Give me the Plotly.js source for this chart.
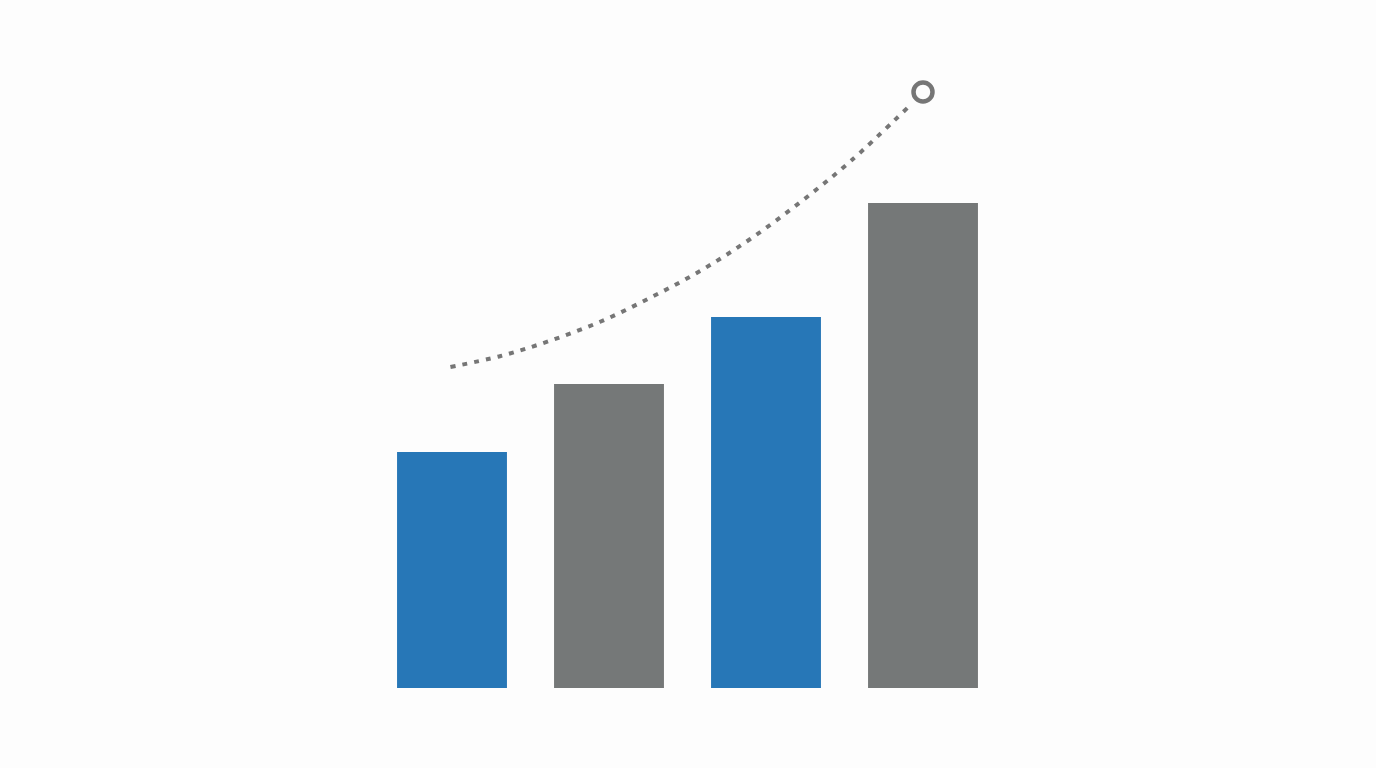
<!DOCTYPE html>
<html>
<head>
<meta charset="utf-8">
<script src="https://cdn.plot.ly/plotly-3.0.1.min.js"></script>
<style>
  html, body { margin: 0; padding: 0; background: #fdfdfd; }
  #chart { width: 1376px; height: 768px; }
</style>
</head>
<body>
<div id="chart"></div>
<script>
// bars
const barX = [0, 1, 2, 3];
const barValues = [2.36, 3.04, 3.71, 4.85];
const barColors = ['#2777b7', '#757878', '#2777b7', '#757878'];

// dotted trend curve
const trendX = [-0.01, 0.31, 0.62, 0.94, 1.26, 1.58, 1.90, 2.22, 2.54, 2.90];
const trendY = [3.21, 3.32, 3.47, 3.66, 3.90, 4.17, 4.49, 4.86, 5.27, 5.80];

// open circle at the end of the curve
const endX = [3];
const endY = [5.96];

const traces = [
  {
    x: barX,
    y: barValues,
    type: 'bar',
    width: 0.7,
    marker: {color: barColors, line: {width: 0}},
    hoverinfo: 'skip'
  },
  {
    x: trendX,
    y: trendY,
    type: 'scatter',
    mode: 'lines',
    line: {color: '#767676', width: 4, dash: '5px,7px', shape: 'spline', smoothing: 1},
    hoverinfo: 'skip'
  },
  {
    x: endX,
    y: endY,
    type: 'scatter',
    mode: 'markers',
    marker: {symbol: 'circle-open', size: 19, color: '#767676', line: {width: 4.5, color: '#767676'}},
    hoverinfo: 'skip'
  }
];

const layout = {
  width: 1376,
  height: 768,
  margin: {l: 0, r: 0, t: 0, b: 0},
  showlegend: false,
  paper_bgcolor: '#fdfdfd',
  plot_bgcolor: '#fdfdfd',
  xaxis: {
    range: [-452 / 157, (1376 - 452) / 157],
    visible: false,
    fixedrange: true
  },
  yaxis: {
    range: [-0.8, 6.88],
    visible: false,
    fixedrange: true
  }
};

Plotly.newPlot('chart', traces, layout, {displayModeBar: false, staticPlot: true});
</script>
</body>
</html>
